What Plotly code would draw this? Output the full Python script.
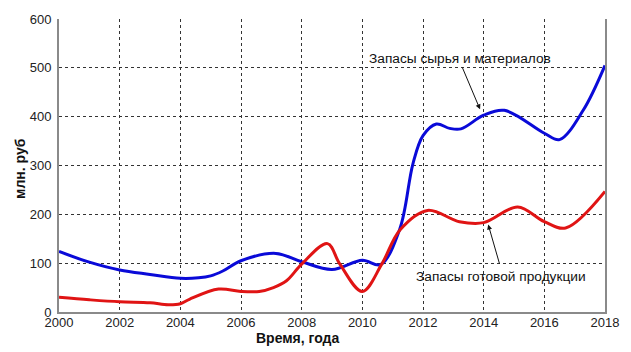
import plotly.graph_objects as go

# Запасы сырья и материалов (blue)
blue_years = [2000, 2001, 2002, 2003, 2004, 2004.6, 2005.0, 2005.4, 2006, 2007.15, 2008, 2009.0,
              2010, 2010.6, 2011.24, 2011.67, 2012, 2012.44, 2012.88, 2013.25, 2014, 2014.68,
              2016, 2016.5, 2017.28, 2018]
blue_vals = [124, 102, 86, 77, 69, 70, 74, 84, 105, 120, 103, 87,
             106, 97, 171, 304, 361, 385, 376, 375, 403, 413,
             366, 353, 413, 505]

# Запасы готовой продукции (red)
red_years = [2000, 2001, 2002, 2003, 2003.6, 2004, 2004.3, 2005.26, 2006, 2006.6, 2007.07, 2007.5,
             2008, 2008.85, 2009.26, 2010, 2010.64, 2011.24, 2012.15, 2013.2, 2014, 2015.12,
             2016, 2016.7, 2018]
red_vals = [30, 25, 21, 19, 15, 17, 26, 47, 42, 42, 50, 64,
            98, 140, 98, 42, 98, 168, 208, 185, 183, 215,
            185, 172, 247]

x_ticks = [2000, 2002, 2004, 2006, 2008, 2010, 2012, 2014, 2016, 2018]
y_ticks = [0, 100, 200, 300, 400, 500, 600]

label_blue = "Запасы сырья и материалов"
label_red = "Запасы готовой продукции"

fig = go.Figure()
fig.add_trace(go.Scatter(x=blue_years, y=blue_vals, mode="lines",
                         line=dict(color="#0a0ad8", width=3, shape="spline", smoothing=1.0),
                         showlegend=False))
fig.add_trace(go.Scatter(x=red_years, y=red_vals, mode="lines",
                         line=dict(color="#e01414", width=3, shape="spline", smoothing=1.0),
                         showlegend=False))

axis_font = dict(family="Liberation Sans, Arial, sans-serif", size=13, color="#222222")

fig.update_layout(
    width=631, height=352,
    margin=dict(l=59, r=26, t=13, b=40),
    paper_bgcolor="white", plot_bgcolor="white",
    font=axis_font,
    xaxis=dict(range=[2000, 2018], tickvals=x_ticks, showgrid=True,
               gridcolor="#333333", griddash="dot", gridwidth=1,
               showline=True, linecolor="#8a8a8a", linewidth=2, mirror=False,
               zeroline=False, ticks="", tickfont=axis_font, ticklabelstandoff=-3),
    yaxis=dict(range=[0, 600], tickvals=y_ticks, showgrid=True,
               gridcolor="#333333", griddash="dot", gridwidth=1,
               showline=True, linecolor="#8a8a8a", linewidth=2, mirror=True,
               zeroline=False, ticks="", tickfont=axis_font, ticklabelstandoff=3),
)

title_font = dict(family="Liberation Sans, Arial, sans-serif", size=14, color="#111111")
# Axis titles as annotations
fig.add_annotation(xref="paper", yref="paper", x=(297 - 59) / 546, y=-(339 - 312) / 299,
                   xanchor="center", yanchor="middle",
                   text="<b>Время, года</b>", showarrow=False, font=title_font)
fig.add_annotation(xref="paper", yref="paper", x=-(59 - 20) / 546, y=(312 - 166) / 299,
                   xanchor="center", yanchor="middle",
                   text="<b>млн. руб</b>", showarrow=False, textangle=-90, font=title_font)

ann_font = dict(family="Liberation Sans, Arial, sans-serif", size=13.7, color="#111111")
# Labels with arrows
fig.add_annotation(x=2013.88, y=415, ax=461.7 - 480, ay=61.7 - 105,
                   text="", showarrow=True, arrowhead=2, arrowsize=1, arrowwidth=1,
                   arrowcolor="#111111")
fig.add_annotation(x=2000 + (459.8 - 59) / 30.33, y=(312 - 53.3) / 0.4983,
                   xanchor="center", yanchor="middle",
                   text=label_blue, showarrow=False, font=ann_font)
fig.add_annotation(x=2014.15, y=179, ax=500 - 488.3, ay=263.3 - 222.7,
                   text="", showarrow=True, arrowhead=2, arrowsize=1, arrowwidth=1,
                   arrowcolor="#111111")
fig.add_annotation(x=2000 + (500.8 - 59) / 30.33, y=(312 - 276) / 0.4983,
                   xanchor="center", yanchor="middle",
                   text=label_red, showarrow=False, font=ann_font)

fig.write_html("out.html")
